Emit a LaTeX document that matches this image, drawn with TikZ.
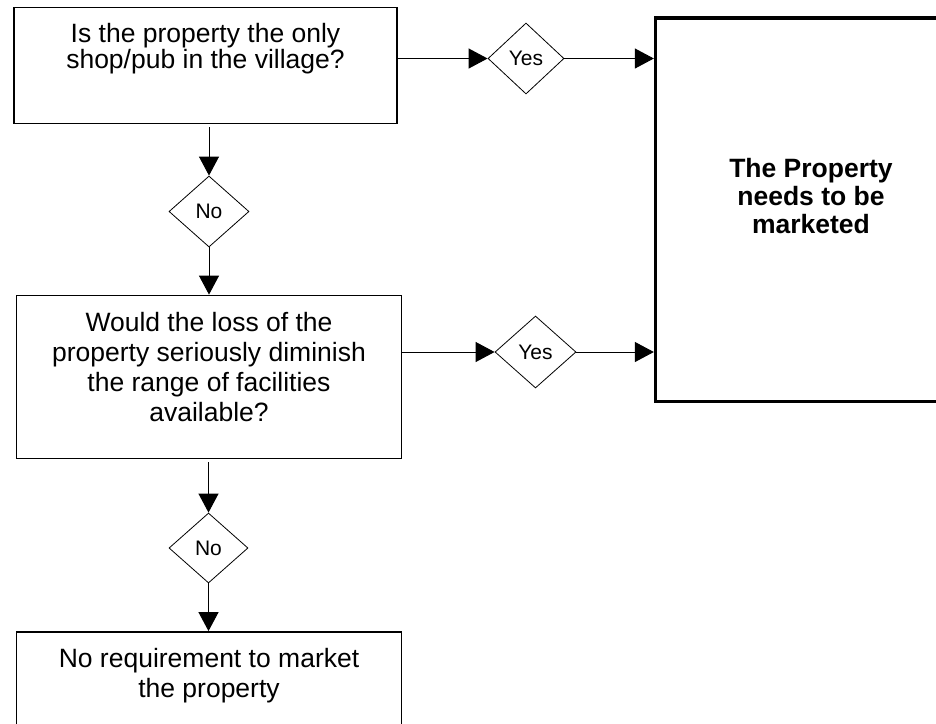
\documentclass[tikz,border=0pt]{standalone}
\usepackage{fontspec}
\setmainfont{Liberation Sans}
\usetikzlibrary{shapes.geometric,arrows.meta}
\begin{document}
\begin{tikzpicture}[x=1pt,y=-1pt,
  qbox/.style={draw, line width=1.8pt, rectangle, inner sep=0pt},
  endbox/.style={draw, line width=3.3pt, rectangle, inner sep=0pt},
  dec/.style={draw, diamond, line width=0.8pt, inner sep=0pt, font=\fontsize{21}{24}\selectfont},
  qtext/.style={align=center, anchor=base, inner sep=0pt},
  conn/.style={line width=1pt, -{Triangle[length=19pt,width=20pt]}},
  ]
\useasboundingbox (0,0) rectangle (936,723);
\clip (0,0) rectangle (936,723);

% boxes
\node[qbox, minimum width=383pt, minimum height=116pt] (b1) at (205.5,65.5) {};
\node[qbox, minimum width=385pt, minimum height=163pt] (b2) at (209,377) {};
\node[qbox, minimum width=385pt, minimum height=200pt] (b3) at (209,732) {};
\node[endbox, minimum width=314.5pt, minimum height=383.5pt] (rb) at (812.75,209.75) {};

% texts (anchor=base is the baseline of the last line)
\node[qtext, font=\fontsize{26.5}{23}\selectfont] (t1) at (205.5,68) {Is the property the only\\shop/pub in the village?};
\node[qtext, font=\fontsize{26.5}{30}\selectfont] (t2) at (209,421) {Would the loss of the\\property seriously diminish\\the range of facilities\\available?};
\node[qtext, font=\fontsize{26.5}{30}\selectfont] (t3) at (209,697) {No requirement to market\\the property};
\node[qtext, font=\fontsize{26.5}{28}\selectfont\bfseries] (tr) at (811,233) {The Property\\needs to be\\marketed};

% decisions
\node[dec, minimum width=76pt, minimum height=71pt] (y1) at (526,58.5) {Yes};
\node[dec, minimum width=81pt, minimum height=72pt] (y2) at (535.5,352) {Yes};
\node[dec, minimum width=80pt, minimum height=71pt] (n1) at (209,211.5) {No};
\node[dec, minimum width=79pt, minimum height=70pt] (n2) at (208.5,548) {No};

% connectors
\draw[conn] (b1.east |- y1.west) -- (y1.west);
\draw[conn] (y1.east) -- (y1.east -| rb.west);
\draw[conn] (b2.east |- y2.west) -- (y2.west);
\draw[conn] (y2.east) -- (y2.east -| rb.west);
\draw[conn, shorten <=3pt] (b1.south -| n1.north) -- (n1.north);
\draw[conn] (n1.south) -- (n1.south |- b2.north);
\draw[conn, shorten <=3pt] (b2.south -| n2.north) -- (n2.north);
\draw[conn] (n2.south) -- (n2.south |- b3.north);
\end{tikzpicture}
\end{document}
